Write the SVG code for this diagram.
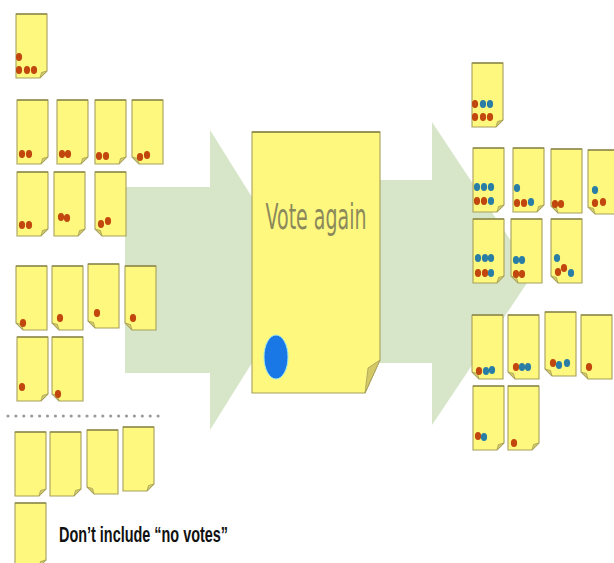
<svg xmlns="http://www.w3.org/2000/svg" xmlns:xlink="http://www.w3.org/1999/xlink" width="614" height="563" viewBox="0 0 614 563">
<style>
.arrow{fill:#d7e6c8}
.body{fill:#fef87e;stroke:#a69f5c;stroke-width:1.1}
.top{stroke:#858045;stroke-width:1.3}
.fold{fill:#d3c967;stroke:#a69f5c;stroke-width:0.8}
.r{fill:#c2470f}
.b{fill:#2a7ea6}
</style>
<defs>
<g id="noteR">
<path class="body" d="M0,0 H31 V57 L24,64 H0 Z"/>
<line class="top" x1="0" y1="0" x2="31" y2="0"/>
<path class="fold" d="M31,57 L24,64 L25.5,58.5 Z"/>
</g>
<g id="noteL">
<path class="body" d="M0,0 H31 V64 H7 L0,57 Z"/>
<line class="top" x1="0" y1="0" x2="31" y2="0"/>
<path class="fold" d="M0,57 L7,64 L5.5,58.5 Z"/>
</g>
<ellipse id="dr" class="r" cx="0" cy="0" rx="3.1" ry="4"/>
<ellipse id="db" class="b" cx="0" cy="0" rx="3.1" ry="4"/>
</defs>
<g id="connectors">
<polygon class="arrow" points="125,187 210,187 210,130 304,280 210,430 210,373 125,373"/>
<polygon class="arrow" points="370,180 432,180 432,122 533,274 432,425 432,363 370,363"/>
<line x1="8" y1="416" x2="165" y2="416" stroke="#9a9aa3" stroke-width="3.2" stroke-linecap="round" stroke-dasharray="0 7.9"/>
</g>
<g id="vote-again">
<path class="body" d="M252,132 H380 V360 L365,393 H252 Z"/>
<line class="top" x1="252" y1="132" x2="380" y2="132"/>
<path class="fold" d="M380,360 L365,393 L368,368 Z"/>
<text x="316" y="229" font-family="DejaVu Sans, sans-serif" font-size="36" fill="#8b895c" text-anchor="middle" textLength="101" lengthAdjust="spacingAndGlyphs">Vote again</text>
<ellipse cx="276" cy="357" rx="12" ry="22" fill="#1a78e6" stroke="#9ee6f0" stroke-width="1"/>
</g>
<g id="L0"><use xlink:href="#noteR" x="16" y="14"/><use xlink:href="#dr" x="19" y="57"/><use xlink:href="#dr" x="19" y="70"/><use xlink:href="#dr" x="27" y="70"/><use xlink:href="#dr" x="34" y="70"/></g>
<g id="L1"><use xlink:href="#noteR" x="17" y="100"/><use xlink:href="#dr" x="22" y="154"/><use xlink:href="#dr" x="29" y="154"/></g>
<g id="L2"><use xlink:href="#noteR" x="57" y="100"/><use xlink:href="#dr" x="62" y="154"/><use xlink:href="#dr" x="68" y="154"/></g>
<g id="L3"><use xlink:href="#noteR" x="95" y="100"/><use xlink:href="#dr" x="99" y="156"/><use xlink:href="#dr" x="106" y="156"/></g>
<g id="L4"><use xlink:href="#noteL" x="132" y="100"/><use xlink:href="#dr" x="140" y="157"/><use xlink:href="#dr" x="147" y="155"/></g>
<g id="L5"><use xlink:href="#noteR" x="17" y="172"/><use xlink:href="#dr" x="22" y="225"/><use xlink:href="#dr" x="29" y="225"/></g>
<g id="L6"><use xlink:href="#noteR" x="54" y="172"/><use xlink:href="#dr" x="61" y="217"/><use xlink:href="#dr" x="67" y="218"/></g>
<g id="L7"><use xlink:href="#noteL" x="95" y="172"/><use xlink:href="#dr" x="101" y="224"/><use xlink:href="#dr" x="108" y="221"/></g>
<g id="L8"><use xlink:href="#noteL" x="16" y="266"/><use xlink:href="#dr" x="23" y="323"/></g>
<g id="L9"><use xlink:href="#noteL" x="52" y="266"/><use xlink:href="#dr" x="60" y="318"/></g>
<g id="L10"><use xlink:href="#noteL" x="88" y="264"/><use xlink:href="#dr" x="97" y="313"/></g>
<g id="L11"><use xlink:href="#noteL" x="125" y="266"/><use xlink:href="#dr" x="133" y="318"/></g>
<g id="L12"><use xlink:href="#noteR" x="17" y="337"/><use xlink:href="#dr" x="22" y="387"/></g>
<g id="L13"><use xlink:href="#noteL" x="52" y="337"/><use xlink:href="#dr" x="58" y="394"/></g>
<g id="L14"><use xlink:href="#noteR" x="15" y="432"/></g>
<g id="L15"><use xlink:href="#noteR" x="50" y="432"/></g>
<g id="L16"><use xlink:href="#noteL" x="87" y="430"/></g>
<g id="L17"><use xlink:href="#noteR" x="123" y="427"/></g>
<g id="L18"><use xlink:href="#noteR" x="15" y="503"/></g>
<g id="R0"><use xlink:href="#noteR" x="472" y="63"/><use xlink:href="#dr" x="475" y="104"/><use xlink:href="#db" x="483" y="104"/><use xlink:href="#db" x="490" y="104"/><use xlink:href="#dr" x="475" y="117"/><use xlink:href="#dr" x="483" y="117"/><use xlink:href="#dr" x="490" y="117"/></g>
<g id="R1"><use xlink:href="#noteR" x="473" y="148"/><use xlink:href="#db" x="477" y="187"/><use xlink:href="#db" x="484" y="187"/><use xlink:href="#db" x="491" y="187"/><use xlink:href="#dr" x="477" y="201"/><use xlink:href="#dr" x="484" y="201"/><use xlink:href="#db" x="491" y="201"/></g>
<g id="R2"><use xlink:href="#noteR" x="513" y="148"/><use xlink:href="#db" x="517" y="188"/><use xlink:href="#dr" x="517" y="203"/><use xlink:href="#dr" x="524" y="203"/><use xlink:href="#db" x="531" y="202"/></g>
<g id="R3"><use xlink:href="#noteL" x="551" y="149"/><use xlink:href="#dr" x="555" y="204"/><use xlink:href="#dr" x="561" y="204"/></g>
<g id="R4"><use xlink:href="#noteL" x="588" y="150"/><use xlink:href="#db" x="595" y="190"/><use xlink:href="#dr" x="595" y="203"/><use xlink:href="#dr" x="603" y="202"/></g>
<g id="R5"><use xlink:href="#noteR" x="473" y="219"/><use xlink:href="#db" x="478" y="258"/><use xlink:href="#db" x="485" y="258"/><use xlink:href="#db" x="491" y="258"/><use xlink:href="#dr" x="478" y="273"/><use xlink:href="#dr" x="485" y="273"/><use xlink:href="#db" x="491" y="273"/></g>
<g id="R6"><use xlink:href="#noteL" x="511" y="219"/><use xlink:href="#db" x="516" y="260"/><use xlink:href="#db" x="522" y="260"/><use xlink:href="#dr" x="516" y="274"/><use xlink:href="#dr" x="522" y="274"/></g>
<g id="R7"><use xlink:href="#noteL" x="551" y="219"/><use xlink:href="#db" x="557" y="258"/><use xlink:href="#dr" x="558" y="272"/><use xlink:href="#dr" x="564" y="268"/><use xlink:href="#db" x="571" y="273"/></g>
<g id="R8"><use xlink:href="#noteL" x="472" y="315"/><use xlink:href="#dr" x="479" y="371"/><use xlink:href="#db" x="486" y="371"/><use xlink:href="#db" x="492" y="370"/></g>
<g id="R9"><use xlink:href="#noteL" x="508" y="315"/><use xlink:href="#dr" x="516" y="367"/><use xlink:href="#db" x="522" y="367"/><use xlink:href="#db" x="528" y="367"/></g>
<g id="R10"><use xlink:href="#noteL" x="545" y="312"/><use xlink:href="#dr" x="553" y="363"/><use xlink:href="#db" x="559" y="365"/><use xlink:href="#db" x="567" y="363"/></g>
<g id="R11"><use xlink:href="#noteL" x="581" y="315"/><use xlink:href="#dr" x="589" y="367"/></g>
<g id="R12"><use xlink:href="#noteR" x="473" y="386"/><use xlink:href="#dr" x="478" y="436"/><use xlink:href="#db" x="484" y="437"/></g>
<g id="R13"><use xlink:href="#noteR" x="508" y="386"/><use xlink:href="#dr" x="514" y="443"/></g>
<text x="59" y="542" font-family="Liberation Sans, Arial, sans-serif" font-weight="bold" font-size="22" fill="#111" textLength="169" lengthAdjust="spacingAndGlyphs">Don’t include “no votes”</text>
</svg>
